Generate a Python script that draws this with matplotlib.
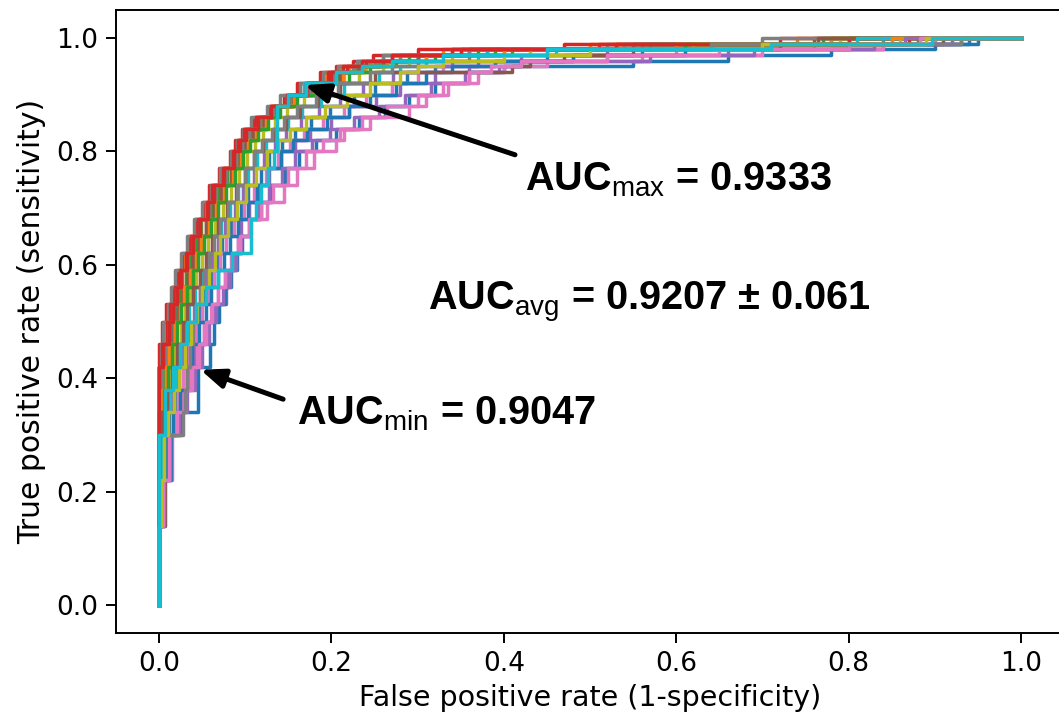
import matplotlib
matplotlib.use("Agg")
import matplotlib.pyplot as plt

# Shared true-positive-rate steps of the ROC staircases
tpr_levels = [0.0, 0.14, 0.22, 0.30, 0.34, 0.38, 0.42, 0.46, 0.50, 0.53, 0.56, 0.59,
              0.62, 0.65, 0.68, 0.71, 0.74, 0.77, 0.80, 0.82, 0.84, 0.86, 0.88, 0.90,
              0.92, 0.94, 0.95, 0.96, 0.97, 0.98, 0.99, 1.0]

# False positive rate at which each run reaches the corresponding TPR level
fpr_00 = [0, 0, .002, .006, .012, .019, .028, .034, .040, .048, .053, .062, .068, .073, .084, .095,
          .103, .118, .128, .143, .158, .176, .198, .226, .25, .288, .32, .37, .45, .56, .72, .78]
fpr_01 = [0, 0, 0, 0, 0, 0, 0, .003, .007, .012, .015, .022, .030, .036, .045, .055,
          .063, .074, .086, .093, .100, .113, .13, .147, .168, .193, .21, .232, .26, .33, .50, .74]
fpr_02 = [0, 0, 0, 0, 0, .002, .004, .008, .014, .019, .023, .031, .037, .043, .049, .062,
          .070, .079, .092, .099, .106, .12, .133, .155, .173, .207, .228, .255, .29, .37, .55, .80]
fpr_03 = [0, 0, 0, 0, 0, 0, 0, 0, .004, .008, .015, .021, .027, .034, .042, .051,
          .058, .070, .082, .088, .096, .110, .128, .145, .160, .187, .205, .225, .248, .30, .47, .72]
fpr_04 = [0, 0, .004, .010, .018, .027, .035, .042, .052, .063, .078, .080, .087, .092, .095, .104,
          .116, .128, .142, .158, .175, .2, .22, .252, .28, .32, .36, .42, .52, .66, .84, .93]
fpr_05 = [0, 0, 0, 0, 0, 0, 0, .006, .016, .021, .027, .034, .040, .047, .055, .064,
          .072, .083, .093, .100, .109, .121, .137, .155, .178, .21, .232, .262, .30, .38, .56, .76]
fpr_06 = [0, 0, 0, .015, .016, .022, .028, .035, .043, .050, .057, .064, .071, .078, .087, .099,
          .110, .124, .138, .152, .168, .19, .215, .24, .27, .30, .33, .39, .48, .60, .76, .90]
fpr_07 = [0, 0, 0, 0, 0, 0, 0, .002, .005, .010, .014, .019, .025, .033, .041, .050,
          .060, .071, .083, .090, .097, .107, .125, .140, .163, .19, .208, .23, .26, .34, .52, .70]
fpr_08 = [0, 0, 0, 0, .002, .005, .009, .013, .019, .025, .030, .038, .044, .050, .059, .067,
          .076, .086, .095, .104, .114, .125, .138, .158, .183, .215, .24, .27, .31, .40, .58, .79]
fpr_09 = [0, 0, 0, 0, 0, .003, .006, .011, .017, .022, .028, .035, .042, .048, .057, .066,
          .074, .084, .094, .101, .111, .123, .133, .148, .168, .20, .226, .255, .30, .38, .57, .80]
fpr_10 = [0, 0, .006, .014, .026, .045, .045, .059, .064, .070, .076, .084, .090, .096, .106, .118,
          .130, .146, .162, .182, .205, .232, .262, .29, .32, .36, .40, .55, .66, .78, .90, .94]
fpr_11 = [0, 0, 0, 0, 0, 0, .002, .006, .010, .015, .020, .027, .032, .039, .047, .058,
          .065, .077, .089, .095, .103, .117, .131, .15, .172, .20, .22, .245, .28, .35, .53, .78]
fpr_12 = [0, 0, 0, 0, 0, .002, .007, .012, .018, .022, .029, .036, .041, .048, .056, .066,
          .074, .085, .094, .102, .111, .122, .137, .156, .18, .212, .235, .262, .30, .39, .57, .77]
fpr_13 = [0, 0, 0, 0, 0, 0, 0, .004, .009, .013, .018, .024, .031, .037, .045, .056,
          .062, .074, .086, .092, .099, .113, .13, .148, .17, .196, .214, .236, .27, .34, .51, .80]
fpr_14 = [0, 0, 0, .004, .010, .016, .022, .028, .035, .041, .048, .055, .062, .069, .077, .088,
          .098, .110, .122, .134, .147, .165, .186, .21, .237, .272, .30, .34, .42, .52, .70, .92]
fpr_15 = [0, 0, .007, .007, .008, .010, .012, .016, .019, .023, .028, .034, .040, .046, .054, .064,
          .072, .083, .094, .101, .110, .122, .136, .155, .177, .21, .232, .26, .30, .36, .55, .765]
fpr_16 = [0, 0, .004, .012, .020, .028, .036, .044, .052, .060, .068, .076, .084, .092, .105, .125,
          .145, .16, .18, .205, .215, .245, .29, .31, .335, .37, .40, .45, .56, .70, .84, .93]
fpr_17 = [0, 0, 0, 0, 0, 0, .003, .008, .012, .016, .021, .027, .034, .040, .048, .058,
          .066, .078, .089, .096, .104, .117, .132, .152, .174, .203, .225, .25, .28, .36, .54, .84]
fpr_18 = [0, 0, 0, .003, .006, .010, .014, .019, .025, .030, .036, .043, .050, .057, .065, .074,
          .083, .093, .102, .111, .121, .134, .148, .168, .195, .232, .26, .29, .34, .43, .62, .86]
fpr_19 = [0, 0, 0, .004, .008, .013, .018, .024, .030, .035, .042, .049, .056, .063, .072, .082,
          .092, .103, .114, .124, .134, .15, .166, .188, .215, .255, .28, .31, .37, .46, .64, .81]
fpr_20 = [0, 0, .004, .009, .016, .024, .032, .038, .046, .054, .060, .068, .075, .082, .092, .103,
          .114, .127, .141, .156, .172, .195, .22, .245, .275, .31, .34, .39, .48, .61, .80, .95]
fpr_21 = [0, 0, 0, 0, .001, .004, .008, .012, .018, .024, .029, .036, .043, .049, .058, .066,
          .075, .086, .095, .103, .112, .124, .138, .157, .18, .213, .238, .265, .31, .40, .60, .85]
fpr_22 = [0, 0, 0, 0, .002, .006, .010, .015, .021, .026, .032, .039, .045, .052, .060, .069,
          .078, .088, .097, .105, .115, .127, .140, .160, .185, .220, .245, .275, .32, .41, .61, .88]
fpr_23 = [0, 0, 0, 0, 0, 0, 0, .005, .012, .016, .021, .026, .033, .040, .048, .057,
          .064, .075, .087, .094, .101, .115, .13, .15, .172, .199, .218, .24, .27, .35, .53, .87]
fpr_24 = [0, 0, .006, .013, .023, .033, .042, .05, .058, .066, .074, .082, .089, .095, .104, .116,
          .128, .143, .158, .178, .198, .226, .255, .285, .315, .355, .395, .42, .57, .69, .83, .865]
fpr_25 = [0, 0, 0, 0, .003, .009, .015, .021, .028, .033, .040, .047, .054, .061, .069, .079,
          .089, .100, .110, .121, .132, .147, .163, .185, .21, .25, .41, .43, .47, .55, .72, .91]
fpr_26 = [0, 0, .005, .012, .021, .030, .038, .046, .055, .062, .069, .077, .085, .094, .104, .118,
          .132, .15, .17, .19, .21, .235, .265, .30, .33, .36, .385, .42, .52, .65, .80, .883]
fpr_27 = [0, 0, 0, 0, .028, .030, .033, .036, .040, .043, .047, .052, .058, .064, .071, .080,
          .090, .100, .110, .12, .131, .145, .16, .182, .208, .245, .27, .30, .36, .45, .64, .93]
fpr_28 = [0, 0, .002, .006, .011, .017, .023, .03, .037, .044, .050, .058, .065, .071, .080, .091,
          .101, .113, .125, .138, .152, .17, .192, .218, .245, .28, .30, .33, .40, .50, .70, .89]
fpr_29 = [0, 0, 0, 0, .007, .007, .016, .024, .033, .043, .055, .068, .085, .107, .107, .112,
          .118, .126, .133, .137, .137, .137, .137, .15, .17, .205, .235, .27, .33, .45, .71, .897]

runs = [fpr_00, fpr_01, fpr_02, fpr_03, fpr_04, fpr_05, fpr_06, fpr_07, fpr_08, fpr_09,
        fpr_10, fpr_11, fpr_12, fpr_13, fpr_14, fpr_15, fpr_16, fpr_17, fpr_18, fpr_19,
        fpr_20, fpr_21, fpr_22, fpr_23, fpr_24, fpr_25, fpr_26, fpr_27, fpr_28, fpr_29]

auc_max = "0.9333"
auc_min = "0.9047"
auc_avg = "0.9207"
auc_std = "0.061"

plt.rcParams["mathtext.fontset"] = "custom"
plt.rcParams["mathtext.rm"] = "Liberation Sans"
plt.rcParams["mathtext.bf"] = "Liberation Sans:bold"

fig = plt.figure(figsize=(10.59, 7.17), dpi=100)
ax = fig.add_axes([115.9 / 1059, 83.6 / 717, 948.2 / 1059, 623.8 / 717])

for fpr in runs:
    ax.plot(fpr + [1.0], tpr_levels + [1.0], drawstyle="steps-post", lw=2.5)

ax.set_xlim(-0.05, 1.05)
ax.set_ylim(-0.05, 1.05)
ax.set_xticks([0.0, 0.2, 0.4, 0.6, 0.8, 1.0])
ax.set_yticks([0.0, 0.2, 0.4, 0.6, 0.8, 1.0])
ax.tick_params(labelsize=19, length=7, width=1.4, pad=6)
for s in ax.spines.values():
    s.set_linewidth(1.4)
ax.set_xlabel("False positive rate (1-specificity)", fontsize=20.5, labelpad=5)
ax.set_ylabel("True positive rate (sensitivity)", fontsize=21.5, labelpad=7)

txt = dict(fontfamily="Liberation Sans", fontweight="bold", fontsize=28.5,
           va="baseline", ha="left", color="black")
ax.text(0.4246, 0.7306, "AUC$_{\\mathrm{max}}$ = " + auc_max, **txt)
ax.text(0.312, 0.521, "AUC$_{\\mathrm{avg}}$ = " + auc_avg + " \u00b1 " + auc_std, **txt)
ax.text(0.160, 0.3187, "AUC$_{\\mathrm{min}}$ = " + auc_min, **txt)

arrow = dict(arrowstyle="-|>,head_length=0.9,head_width=0.36", lw=3.6, color="black",
             mutation_scale=16, shrinkA=0, shrinkB=0)
ax.annotate("", xy=(0.169, 0.917), xytext=(0.413, 0.794), arrowprops=arrow)
ax.annotate("", xy=(0.048, 0.415), xytext=(0.144, 0.363), arrowprops=arrow)

fig.savefig("out.png", dpi=100)
